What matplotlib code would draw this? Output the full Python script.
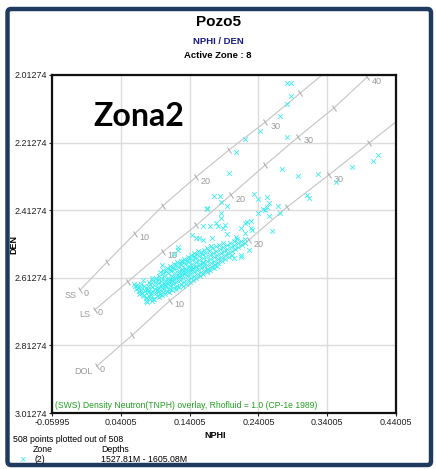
import numpy as np
import matplotlib
matplotlib.use("Agg")
import matplotlib.pyplot as plt
from matplotlib.markers import MarkerStyle
from matplotlib.transforms import Affine2D
from matplotlib.patches import FancyBboxPatch

plt.rcParams['font.family'] = ['Liberation Sans', 'DejaVu Sans']

# ===== axes
x_ticks = [-0.05995, 0.04005, 0.14005, 0.24005, 0.34005, 0.44005]
x_tick_labels = ["-0.05995", "0.04005", "0.14005", "0.24005", "0.34005", "0.44005"]
y_ticks = [2.01274, 2.21274, 2.41274, 2.61274, 2.81274, 3.01274]
y_tick_labels = ["2.01274", "2.21274", "2.41274", "2.61274", "2.81274", "3.01274"]

# ===== lithology overlay (CP-1e), porosity in p.u.
litho_por = [0, 5, 10, 15, 20, 25, 30, 35, 40]
ss_nphi = [-0.019, 0.020, 0.060, 0.101, 0.149, 0.197, 0.250, 0.301, 0.352]
ss_den = [2.649, 2.566, 2.483, 2.400, 2.315, 2.235, 2.152, 2.066, 1.980]
ls_nphi = [0.002, 0.050, 0.101, 0.150, 0.200, 0.250, 0.298, 0.350, 0.398]
ls_den = [2.708, 2.625, 2.536, 2.457, 2.368, 2.279, 2.196, 2.110, 2.019]
dol_nphi = [0.005, 0.057, 0.111, 0.166, 0.226, 0.282, 0.342, 0.401, 0.460]
dol_den = [2.874, 2.782, 2.681, 2.590, 2.501, 2.403, 2.309, 2.214, 2.119]
ss_labels = [0, 10, 20, 30]
ls_labels = [0, 10, 20, 30, 40]
dol_labels = [0, 10, 20, 30]

# ===== zone 2 points: main band
band = [
    (0.060, 2.638), (0.062, 2.646), (0.059, 2.630),
    (0.065, 2.642), (0.066, 2.652), (0.064, 2.635), (0.067, 2.660),
    (0.070, 2.648), (0.071, 2.658), (0.069, 2.640), (0.072, 2.666), (0.070, 2.630),
    (0.075, 2.652), (0.074, 2.664), (0.076, 2.644), (0.077, 2.672), (0.074, 2.636), (0.076, 2.680),
    (0.080, 2.656), (0.081, 2.668), (0.079, 2.646), (0.082, 2.676), (0.080, 2.638), (0.078, 2.684), (0.081, 2.626),
    (0.085, 2.652), (0.084, 2.664), (0.086, 2.640), (0.087, 2.674), (0.083, 2.630), (0.085, 2.680), (0.086, 2.620), (0.084, 2.658),
    (0.090, 2.646), (0.091, 2.658), (0.089, 2.634), (0.092, 2.668), (0.090, 2.624), (0.088, 2.676), (0.091, 2.614), (0.092, 2.650),
    (0.095, 2.640), (0.096, 2.652), (0.094, 2.628), (0.097, 2.662), (0.093, 2.618), (0.095, 2.670), (0.096, 2.606), (0.094, 2.644), (0.097, 2.596),
    (0.100, 2.634), (0.101, 2.646), (0.099, 2.622), (0.102, 2.656), (0.098, 2.612), (0.100, 2.664), (0.101, 2.600), (0.099, 2.638), (0.102, 2.590),
    (0.105, 2.630), (0.106, 2.640), (0.104, 2.618), (0.107, 2.652), (0.103, 2.606), (0.105, 2.660), (0.106, 2.594), (0.104, 2.634), (0.107, 2.584), (0.105, 2.624),
    (0.110, 2.624), (0.111, 2.636), (0.109, 2.612), (0.112, 2.646), (0.108, 2.600), (0.110, 2.656), (0.111, 2.588), (0.109, 2.628), (0.112, 2.578), (0.110, 2.618),
    (0.115, 2.618), (0.116, 2.630), (0.114, 2.606), (0.117, 2.642), (0.113, 2.594), (0.115, 2.650), (0.116, 2.582), (0.114, 2.622), (0.117, 2.572), (0.115, 2.612),
    (0.120, 2.612), (0.121, 2.624), (0.119, 2.600), (0.122, 2.636), (0.118, 2.588), (0.120, 2.646), (0.121, 2.576), (0.119, 2.616), (0.122, 2.566), (0.120, 2.606),
    (0.125, 2.606), (0.126, 2.618), (0.124, 2.594), (0.127, 2.630), (0.123, 2.582), (0.125, 2.640), (0.126, 2.570), (0.124, 2.610), (0.127, 2.562), (0.125, 2.600),
    (0.130, 2.600), (0.131, 2.612), (0.129, 2.588), (0.132, 2.624), (0.128, 2.576), (0.130, 2.636), (0.131, 2.564), (0.129, 2.604), (0.132, 2.556), (0.130, 2.594),
    (0.135, 2.596), (0.136, 2.606), (0.134, 2.584), (0.137, 2.618), (0.133, 2.572), (0.135, 2.630), (0.136, 2.560), (0.134, 2.600), (0.137, 2.550), (0.135, 2.590),
    (0.140, 2.590), (0.141, 2.602), (0.139, 2.578), (0.142, 2.614), (0.138, 2.566), (0.140, 2.626), (0.141, 2.554), (0.139, 2.594), (0.142, 2.546), (0.140, 2.584),
    (0.145, 2.584), (0.146, 2.596), (0.144, 2.572), (0.147, 2.608), (0.143, 2.560), (0.145, 2.620), (0.146, 2.548), (0.144, 2.588), (0.147, 2.540),
    (0.150, 2.578), (0.151, 2.590), (0.149, 2.566), (0.152, 2.602), (0.148, 2.554), (0.150, 2.614), (0.151, 2.542), (0.149, 2.582), (0.152, 2.534),
    (0.155, 2.572), (0.156, 2.584), (0.154, 2.560), (0.157, 2.596), (0.153, 2.548), (0.155, 2.608), (0.156, 2.536), (0.154, 2.576),
    (0.160, 2.566), (0.161, 2.578), (0.159, 2.554), (0.162, 2.590), (0.158, 2.542), (0.160, 2.602), (0.161, 2.530), (0.159, 2.570),
    (0.165, 2.562), (0.166, 2.574), (0.164, 2.550), (0.167, 2.586), (0.163, 2.538), (0.165, 2.596), (0.166, 2.526),
    (0.170, 2.556), (0.171, 2.568), (0.169, 2.544), (0.172, 2.580), (0.168, 2.532), (0.170, 2.590), (0.171, 2.520),
    (0.175, 2.550), (0.176, 2.562), (0.174, 2.538), (0.177, 2.574), (0.173, 2.526), (0.175, 2.584),
    (0.180, 2.544), (0.181, 2.556), (0.179, 2.532), (0.182, 2.568), (0.178, 2.520), (0.180, 2.578),
    (0.185, 2.540), (0.186, 2.552), (0.184, 2.528), (0.187, 2.564), (0.183, 2.516),
    (0.190, 2.534), (0.191, 2.546), (0.189, 2.522), (0.192, 2.558), (0.188, 2.510),
    (0.195, 2.528), (0.196, 2.540), (0.194, 2.516), (0.197, 2.552),
    (0.200, 2.522), (0.201, 2.534), (0.199, 2.510), (0.202, 2.546),
    (0.205, 2.516), (0.206, 2.528), (0.204, 2.504),
    (0.210, 2.510), (0.211, 2.522), (0.209, 2.498),
    (0.215, 2.504), (0.216, 2.516),
    (0.220, 2.498), (0.221, 2.510),
]

# ===== zone 2 points: scattered
scatter_pts = [
    (0.282, 2.036), (0.288, 2.036), (0.288, 2.075), (0.281, 2.099), (0.272, 2.134),
    (0.243, 2.178), (0.220, 2.202), (0.282, 2.196), (0.207, 2.241), (0.275, 2.291),
    (0.297, 2.312), (0.327, 2.306), (0.376, 2.285), (0.353, 2.329), (0.407, 2.267),
    (0.414, 2.250), (0.234, 2.365), (0.253, 2.374), (0.310, 2.368), (0.314, 2.377),
    (0.198, 2.303), (0.175, 2.371), (0.184, 2.371), (0.186, 2.389), (0.194, 2.401),
    (0.240, 2.380), (0.256, 2.392), (0.268, 2.401), (0.247, 2.409), (0.256, 2.430),
    (0.239, 2.421), (0.272, 2.421), (0.260, 2.474), (0.229, 2.445), (0.221, 2.451),
    (0.229, 2.465), (0.227, 2.531), (0.215, 2.551), (0.205, 2.554), (0.165, 2.406),
    (0.159, 2.460), (0.182, 2.460), (0.191, 2.457), (0.185, 2.421), (0.166, 2.409),
    (0.186, 2.436), (0.169, 2.460), (0.178, 2.451), (0.189, 2.465), (0.215, 2.465),
    (0.224, 2.448), (0.231, 2.471), (0.220, 2.480), (0.154, 2.495), (0.173, 2.495),
    (0.208, 2.492), (0.195, 2.483), (0.215, 2.545), (0.123, 2.522), (0.123, 2.531),
    (0.143, 2.486), (0.150, 2.495), (0.159, 2.501), (0.118, 2.542), (0.100, 2.575),
    (0.072, 2.619), (0.085, 2.613), (0.078, 2.649), (0.249, 2.412), (0.253, 2.403),
]

band_nphi, band_den = zip(*band)
sc_nphi, sc_den = zip(*scatter_pts)

W, H = 436, 469
fig = plt.figure(figsize=(W / 100, H / 100), dpi=100)
ax = fig.add_axes([52 / W, 56 / H, 344 / W, 338 / H])

ax.set_xlim(x_ticks[0], x_ticks[-1])
ax.set_ylim(y_ticks[-1], y_ticks[0])
ax.set_xticks(x_ticks)
ax.set_xticklabels(x_tick_labels)
ax.set_yticks(y_ticks)
ax.set_yticklabels(y_tick_labels)
ax.tick_params(labelsize=6.5, length=2, pad=1.5, colors='#222222')
ax.grid(True, color='#dcdcdc', lw=1.0)
ax.set_axisbelow(True)
for s in ax.spines.values():
    s.set_color('#111111')
    s.set_linewidth(1.6)

ax.set_xlabel("NPHI", fontsize=6.5, fontweight='bold')
ax.set_ylabel("DEN", fontsize=6.5, fontweight='bold')
ax.xaxis.set_label_coords((215 - 52) / 344, -(431 - 413) / 338)
ax.yaxis.set_label_coords(-(52 - 18) / 344, 0.5)

# ===== lithology lines
lcol = '#c4c4c4'
tcol = '#9a9a9a'
tick_mark = MarkerStyle('|', transform=Affine2D().rotate_deg(41))
for name, xs, ys, labs in [("SS", ss_nphi, ss_den, ss_labels),
                           ("LS", ls_nphi, ls_den, ls_labels),
                           ("DOL", dol_nphi, dol_den, dol_labels)]:
    ax.plot(xs, ys, color=lcol, lw=0.8, zorder=1)
    ax.plot(xs, ys, ls='none', marker=tick_mark, ms=5, mew=0.8, color='#b0b0b0', zorder=1)
    for p, x, y in zip(litho_por, xs, ys):
        if p in labs:
            off = (3, -3) if p == 0 else (5, -4)
            ax.annotate(str(p), (x, y), xytext=off, textcoords='offset pixels',
                        fontsize=6.5, color=tcol, ha='left', va='center')
    ax.annotate(name, (xs[0], ys[0]), xytext=(-4, -5), textcoords='offset pixels',
                fontsize=6.5, color=tcol, ha='right', va='center')

# ===== points
ax.scatter(band_nphi, band_den, marker='x', s=11, lw=0.6, color='#38eef0', zorder=3)
ax.scatter(sc_nphi, sc_den, marker='x', s=11, lw=0.6, color='#38eef0', zorder=3)

ax.text(0.008, 0.022, "(SWS) Density Neutron(TNPH) overlay, Rhofluid = 1.0 (CP-1e 1989)",
        transform=ax.transAxes, fontsize=6.2, color='#22a022', ha='left', va='center')

# ===== titles and annotations
def ftext(x, y, s, **kw):
    fig.text(x / W, 1 - y / H, s, **kw)

ftext(218, 22, "Pozo5", fontsize=11, fontweight='bold', ha='center', va='center')
ftext(218, 42, "NPHI / DEN", fontsize=6.8, fontweight='bold', color='#1a1a8a', ha='center', va='center')
ftext(218, 55, "Active Zone : 8", fontsize=6.8, fontweight='bold', ha='center', va='center')
ftext(139, 117, "Zona2", fontsize=23, fontweight='bold', ha='center', va='center', family=['Lato', 'DejaVu Sans'])

ftext(13, 439, "508 points plotted out of 508", fontsize=6.3, ha='left', va='center')
ftext(33, 449, "Zone", fontsize=6.3, ha='left', va='center')
ftext(101, 449, "Depths", fontsize=6.3, ha='left', va='center')
ftext(22, 459, "\u00d7", fontsize=8, color='#38eef0', ha='center', va='center')
ftext(34, 459, "(2)", fontsize=6.3, ha='left', va='center')
ftext(101, 459, "1527.81M - 1605.08M", fontsize=6.3, ha='left', va='center')

# ===== outer frame
fig.add_artist(FancyBboxPatch((7.5 / W, 4 / H), (431 - 7.5) / W, (460 - 4) / H,
                              boxstyle='round,pad=0,rounding_size=0.008',
                              transform=fig.transFigure, fill=False,
                              ec='#1f3a60', lw=3.2))

fig.savefig("out.png", dpi=100)
